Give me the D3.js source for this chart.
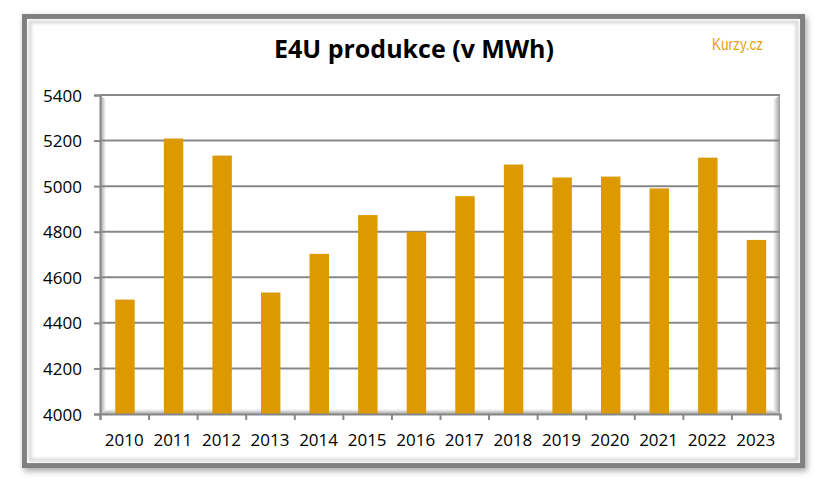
<!DOCTYPE html>
<html>
<head>
<meta charset="utf-8">
<script src="https://cdn.jsdelivr.net/npm/d3@7"></script>
<style>
  body { margin: 0; background: #fff; }
  svg { display: block; }
</style>
</head>
<body>
<svg id="chart" width="821" height="493"></svg>
<script>
// data
var years = ["2010","2011","2012","2013","2014","2015","2016","2017","2018","2019","2020","2021","2022","2023"];
var production = [4502, 5209, 5134, 4533, 4703, 4873, 4800, 4956, 5095, 5038, 5042, 4990, 5125, 4764];
var yTicks = [4000, 4200, 4400, 4600, 4800, 5000, 5200, 5400];

var svg = d3.select("#chart");
var defs = svg.append("defs");

// frame shadow
var sh = defs.append("filter").attr("id", "shadow")
	.attr("x", "-5%").attr("y", "-5%").attr("width", "110%").attr("height", "115%");
sh.append("feGaussianBlur").attr("in", "SourceAlpha").attr("stdDeviation", 3);
sh.append("feOffset").attr("dx", 2).attr("dy", 3).attr("result", "blur");
sh.append("feFlood").attr("flood-color", "#000").attr("flood-opacity", 0.35);
sh.append("feComposite").attr("in2", "blur").attr("operator", "in");
var merge = sh.append("feMerge");
merge.append("feMergeNode");
merge.append("feMergeNode").attr("in", "SourceGraphic");

defs.append("filter").attr("id", "soft")
	.append("feGaussianBlur").attr("stdDeviation", 1.5);

function grad(id, x1, y1, x2, y2, c1, c2) {
	var g = defs.append("linearGradient").attr("id", id)
		.attr("x1", x1).attr("y1", y1).attr("x2", x2).attr("y2", y2);
	g.append("stop").attr("offset", "0%").attr("stop-color", c1);
	g.append("stop").attr("offset", "100%").attr("stop-color", c2);
}
grad("wallL", "0", "0", "1", "0", "#9a9a9a", "#ffffff");
grad("wallR", "0", "0", "1", "0", "#ffffff", "#9a9a9a");
grad("floor", "0", "0", "0", "1", "#ffffff", "#a8a8a8");

// outer frame
svg.append("rect")
	.attr("x", 24.5).attr("y", 16.5).attr("width", 778).attr("height", 449)
	.attr("fill", "#fff").attr("stroke", "#808080").attr("stroke-width", 5)
	.attr("filter", "url(#shadow)");
svg.append("rect")
	.attr("x", 30).attr("y", 22).attr("width", 767).attr("height", 438)
	.attr("fill", "none").attr("stroke", "#d4d4d4").attr("stroke-width", 3)
	.attr("filter", "url(#soft)");

var pLeft = 100, pRight = 780, pTop = 95, pBottom = 414;

var x = d3.scaleBand().domain(years).range([pLeft, pRight])
	.paddingInner(0.6).paddingOuter(0.3);
var edge = d3.scaleLinear().domain([0, years.length]).range([pLeft, pRight]);
var y = d3.scaleLinear().domain([4000, 5400]).range([pBottom, pTop]);

// 3D walls and floor
svg.append("path")
	.attr("d", "M" + pLeft + "," + pTop + "L" + (pLeft + 6) + "," + (pTop + 5) + "L" + (pLeft + 6) + "," + (pBottom - 5) + "L" + pLeft + "," + pBottom + "Z")
	.attr("fill", "url(#wallL)");
svg.append("path")
	.attr("d", "M" + (pRight - 7) + "," + (pTop + 5) + "L" + pRight + "," + pTop + "L" + pRight + "," + pBottom + "L" + (pRight - 7) + "," + (pBottom - 5) + "Z")
	.attr("fill", "url(#wallR)");
svg.append("path")
	.attr("d", "M" + (pLeft + 6) + "," + (pBottom - 5) + "L" + (pRight - 7) + "," + (pBottom - 5) + "L" + pRight + "," + pBottom + "L" + pLeft + "," + pBottom + "Z")
	.attr("fill", "url(#floor)");

// gridlines
svg.append("g").selectAll("line")
	.data(yTicks.slice(1))
	.enter().append("line")
	.attr("x1", pLeft).attr("x2", pRight)
	.attr("y1", function(d){ return y(d); })
	.attr("y2", function(d){ return y(d); })
	.attr("stroke", "#878787").attr("stroke-width", 2);

// bars
svg.append("g").selectAll("rect")
	.data(production)
	.enter().append("rect")
	.attr("x", function(d, i){ return x(years[i]) + 0.7; })
	.attr("y", function(d){ return y(d); })
	.attr("width", x.bandwidth())
	.attr("height", function(d){ return y(4000) - y(d); })
	.attr("fill", "#DC9A00");

// axes
var yAxis = svg.append("g")
	.attr("transform", "translate(" + pLeft + ",0)")
	.call(d3.axisLeft(y).tickValues(yTicks).tickSize(6).tickPadding(12).tickFormat(d3.format("d")));
var xTicks = svg.append("g")
	.attr("transform", "translate(0," + pBottom + ")")
	.call(d3.axisBottom(edge).tickValues(d3.range(years.length + 1)).tickSize(6).tickFormat(""));
var xLabels = svg.append("g")
	.attr("transform", "translate(0," + pBottom + ")")
	.call(d3.axisBottom(x).tickSize(0).tickPadding(20));

[yAxis, xTicks].forEach(function(a){
	a.select(".domain").attr("stroke", "#878787").attr("stroke-width", 2);
	a.selectAll(".tick line").attr("stroke", "#878787").attr("stroke-width", 2);
});
xLabels.select(".domain").remove();
yAxis.selectAll("text").attr("dy", "0.36em");
[yAxis, xLabels].forEach(function(a){
	a.selectAll("text")
		.style("font-family", "'Open Sans', sans-serif")
		.style("font-size", "17px")
		.attr("fill", "#000");
});

// title and logo
svg.append("text")
	.attr("x", 414).attr("y", 58)
	.attr("text-anchor", "middle")
	.style("font-family", "'Open Sans', sans-serif")
	.style("font-weight", "bold")
	.style("font-size", "25px")
	.text("E4U produkce (v MWh)");
svg.append("text")
	.attr("x", 712).attr("y", 50)
	.attr("textLength", 51).attr("lengthAdjust", "spacingAndGlyphs")
	.style("font-family", "'Liberation Sans Narrow', 'Liberation Sans', sans-serif")
	.style("font-size", "17px")
	.attr("fill", "#E5A20F")
	.text("Kurzy.cz");
</script>
</body>
</html>
